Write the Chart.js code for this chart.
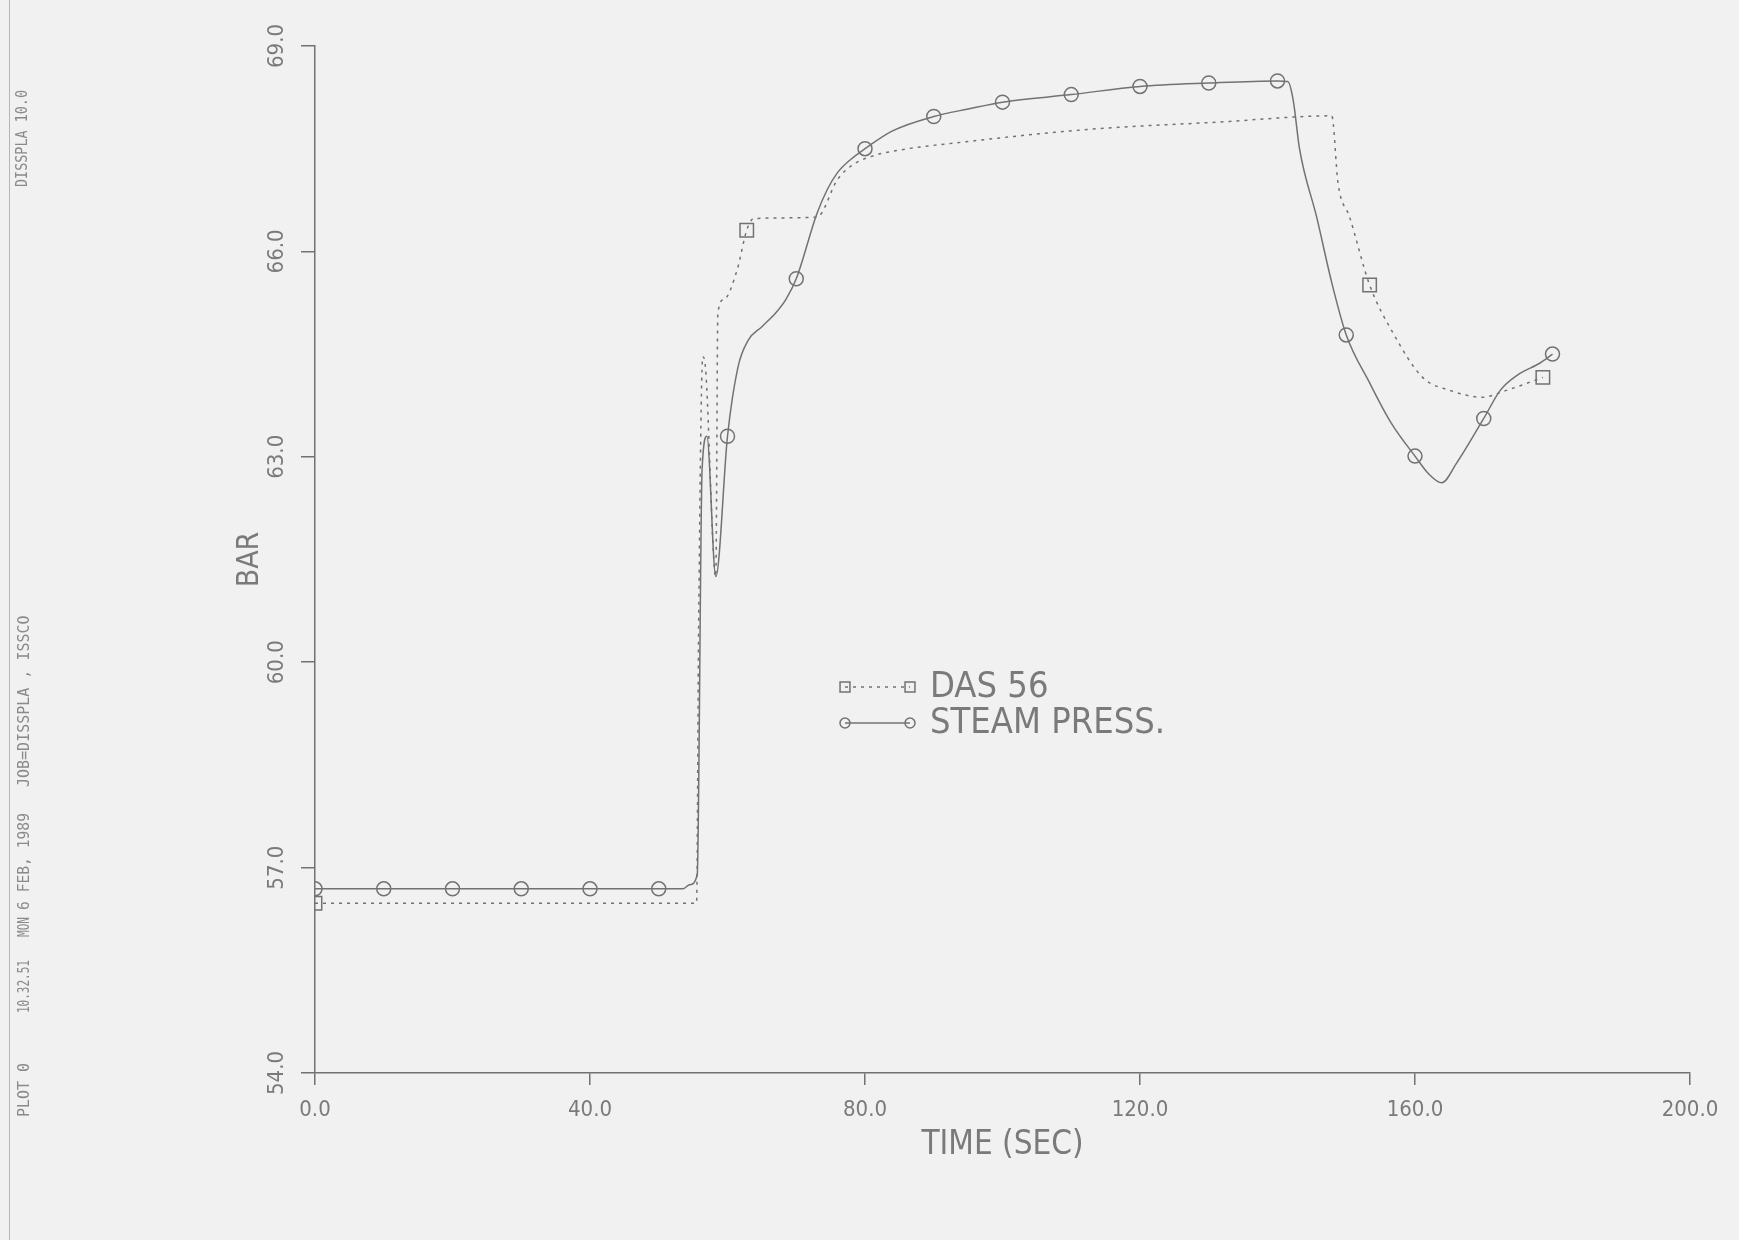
<!DOCTYPE html>
<html><head><meta charset="utf-8">
<script src="https://cdn.jsdelivr.net/npm/chart.js@4.4.1/dist/chart.umd.min.js"></script>
<style>html,body{margin:0;padding:0;background:#f1f1f1;} #wrap{position:relative;width:1739px;height:1240px;}</style>
</head><body><div id="wrap"><canvas id="c"></canvas></div>
<script>
// ---- data ----
const xTicks = [0, 40, 80, 120, 160, 200];
const yTicks = [54, 57, 60, 63, 66, 69];
const seriesNames = ['DAS 56', 'STEAM PRESS.'];
const xTitle = 'TIME (SEC)';
const yTitle = 'BAR';

const steamTime = [0,10,20,30,40,50,53.5,54.5,55.6,56.3,57.0,58.3,60,61.5,63,65,67,68.5,70,73,74.5,76,78,80,84,90,95,100,110,120,130,140,141.5,142.3,143.2,145.7,147.9,150,153.4,156.5,160,162,163.9,166,170,172.4,175,178.2,180];
const steamBar  = [56.69,56.69,56.69,56.69,56.69,56.69,56.69,56.75,56.9,62.8,63.3,61.25,63.3,64.3,64.7,64.9,65.1,65.3,65.6,66.55,66.9,67.15,67.35,67.5,67.76,67.97,68.08,68.18,68.29,68.41,68.46,68.49,68.48,68.2,67.5,66.5,65.54,64.78,64.08,63.5,63.01,62.75,62.62,62.9,63.56,63.97,64.2,64.37,64.5];
const steamMarkerTimes = [0,10,20,30,40,50,60,70,80,90,100,110,120,130,140,150,160,170,180];

const dasTime = [0,55.5,55.8,56.4,56.8,58.3,58.6,59.5,61.4,62.8,63.8,73,76,78,80.7,85,92.8,112.3,131.6,147.9,148.8,150.5,153.4,156.8,161.1,165.1,169.8,173.3,178.6];
const dasBar  = [56.48,56.48,60.5,64.46,64.3,61.25,65.1,65.3,65.73,66.31,66.48,66.5,67.05,67.25,67.38,67.48,67.58,67.78,67.89,67.98,67.0,66.5,65.51,64.81,64.16,63.97,63.87,63.97,64.16];
const dasMarkerTimes = [0, 62.8, 153.4, 178.6];

const marginNotes = ['PLOT 0', '10.32.51', 'MON', '6 FEB, 1989', 'JOB=DISSPLA , ISSCO', 'DISSPLA 10.0'];

// ---- styling ----
const INK = '#727272';
const TXT = '#7a7a7a';
const notePlace = [[1117, 54, 25], [1013, 53, 25], [937, 20, 25], [910, 97, 25], [787, 177, 25], [187, 97, 23]];

function pts(t, v){ return t.map((x,i)=>({x:x, y:v[i]})); }

const decor = {
  id: 'decor',
  afterDraw(chart){
    const ctx = chart.ctx;
    ctx.save();
    // left border line
    ctx.strokeStyle = '#b5b5b5'; ctx.lineWidth = 1;
    ctx.beginPath(); ctx.moveTo(9.5, 0); ctx.lineTo(9.5, 1240); ctx.stroke();
    // margin annotations (rotated)
    ctx.fillStyle = '#8a8a8a';
    ctx.font = '15px "DejaVu Sans Mono"';
    ctx.textAlign = 'left'; ctx.textBaseline = 'middle';
    marginNotes.forEach((s, i) => {
      const [y, w, x] = notePlace[i];
      ctx.save(); ctx.translate(x, y); ctx.rotate(-Math.PI/2); ctx.fillText(s, 0, 0, w); ctx.restore();
    });
    // legend inside the plot
    const rows = [687, 723];
    chart.data.datasets.forEach((ds, i) => {
      const y = rows[i];
      ctx.strokeStyle = ds.borderColor; ctx.lineWidth = 1.5;
      ctx.setLineDash(ds.borderDash || []);
      ctx.beginPath(); ctx.moveTo(845, y); ctx.lineTo(910, y); ctx.stroke();
      ctx.setLineDash([]);
      ctx.fillStyle = 'rgba(0,0,0,0)';
      [845, 910].forEach(px => {
        Chart.helpers.drawPoint(ctx, {pointStyle: ds.pointStyle, radius: ds.pointStyle === 'rect' ? 7 : 5, borderWidth: 1.5}, px, y);
      });
      ctx.fillStyle = TXT;
      ctx.font = '36px "DejaVu Sans Condensed", "DejaVu Sans"';
      ctx.textAlign = 'left'; ctx.textBaseline = 'middle';
      ctx.fillText(ds.label, 930, y + 1);
    });
    ctx.restore();
  }
};

new Chart(document.getElementById('c'), {
  type: 'line',
  data: {
    datasets: [
      { label: seriesNames[0], data: pts(dasTime, dasBar), borderColor: INK, borderWidth: 1.5, borderDash: [3, 5],
        pointStyle: 'rect', pointBorderColor: INK, pointBackgroundColor: 'rgba(0,0,0,0)', pointBorderWidth: 1.5,
        pointRadius: c => (c.raw && dasMarkerTimes.includes(c.raw.x)) ? 9.5 : 0, cubicInterpolationMode: 'monotone', fill: false },
      { label: seriesNames[1], data: pts(steamTime, steamBar), borderColor: INK, borderWidth: 1.5,
        pointStyle: 'circle', pointBorderColor: INK, pointBackgroundColor: 'rgba(0,0,0,0)', pointBorderWidth: 1.5,
        pointRadius: c => (c.raw && steamMarkerTimes.includes(c.raw.x)) ? 7 : 0, cubicInterpolationMode: 'monotone', fill: false }
    ]
  },
  options: {
    responsive: true, maintainAspectRatio: false, animation: false, events: [],
    layout: { padding: { left: 0, top: 46, right: 49, bottom: 0 } },
    plugins: { legend: { display: false }, tooltip: { enabled: false } },
    scales: {
      x: {
        type: 'linear', min: 0, max: 200,
        afterBuildTicks: a => { a.ticks = xTicks.map(v => ({value: v})); },
        afterFit: s => { s.height = 167; },
        grid: { drawOnChartArea: false, drawTicks: true, tickLength: 12, color: INK, lineWidth: 1.5 },
        border: { display: true, color: INK, width: 1.5 },
        ticks: { color: TXT, font: { family: '"DejaVu Sans Condensed", "DejaVu Sans"', size: 22 }, padding: 12, maxRotation: 0, minRotation: 0, callback: v => Number(v).toFixed(1) },
        title: { display: true, text: xTitle, color: TXT, font: { family: '"DejaVu Sans Condensed", "DejaVu Sans"', size: 33 }, padding: { top: 0, bottom: 75 } }
      },
      y: {
        type: 'linear', min: 54, max: 69,
        afterBuildTicks: a => { a.ticks = yTicks.map(v => ({value: v})); },
        afterFit: s => { s.width = 315; },
        grid: { drawOnChartArea: false, drawTicks: true, tickLength: 14, color: INK, lineWidth: 1.5 },
        border: { display: true, color: INK, width: 1.5 },
        ticks: { color: TXT, font: { family: '"DejaVu Sans Condensed", "DejaVu Sans"', size: 22 }, padding: 2, minRotation: 90, maxRotation: 90, crossAlign: 'center', callback: v => Number(v).toFixed(1) },
        title: { display: true, text: yTitle, color: TXT, font: { family: '"DejaVu Sans Condensed", "DejaVu Sans"', size: 30 }, padding: { top: 232, bottom: 0 } }
      }
    }
  },
  plugins: [decor]
});
</script></body></html>
